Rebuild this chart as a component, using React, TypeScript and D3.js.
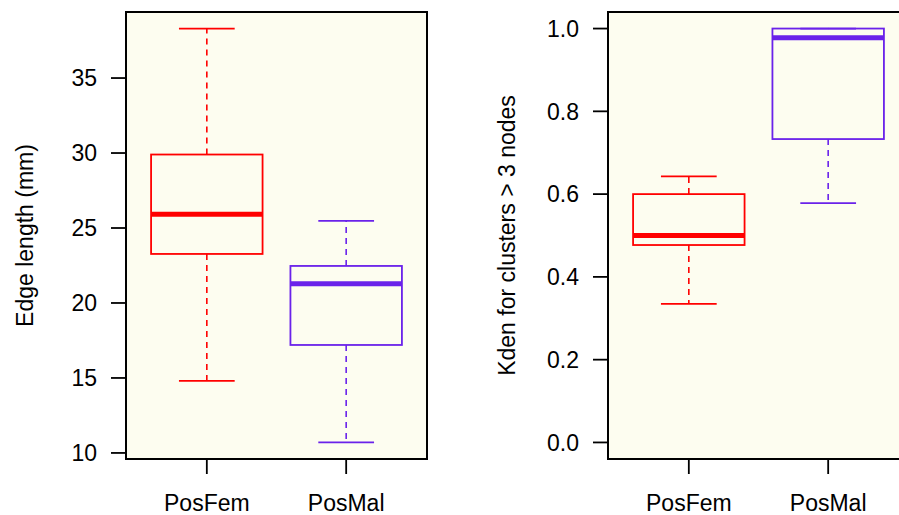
import React from "react";
import * as d3 from "d3";

const categories = ["PosFem", "PosMal"];

// Panel 1: Edge length (mm) — [lowerWhisker, Q1, median, Q3, upperWhisker]
const edgeLengthStats = [
  [14.8, 23.27, 25.91, 29.9, 38.3],
  [10.7, 17.2, 21.29, 22.47, 25.48],
];
const edgeTicks = [10, 15, 20, 25, 30, 35];

// Panel 2: Kden for clusters > 3 nodes
const kdenStats = [
  [0.335, 0.477, 0.5, 0.6, 0.643],
  [0.578, 0.733, 0.978, 1.0, 1.0],
];
const kdenTicks = [0.0, 0.2, 0.4, 0.6, 0.8, 1.0];

const colors = ["#FF0000", "#6A22EA"];

const W = 899;
const H = 515;
const FONT = "'Liberation Sans', Arial, Helvetica, sans-serif";
const FS = 23;

type PanelProps = {
  left: number;
  right: number;
  top: number;
  bottom: number;
  stats: number[][];
  ylim: [number, number];
  ticks: number[];
  tickFmt: (v: number) => string;
  ylabel: string;
  ylabelX: number;
};

function Panel(p: PanelProps) {
  const x = d3.scaleLinear().domain([0.42, 2.58]).range([p.left, p.right]);
  const y = d3.scaleLinear().domain(p.ylim).range([p.bottom, p.top]);
  const unit = x(1) - x(0);
  const boxHalf = 0.4 * unit;
  const capHalf = 0.2 * unit;
  const midY = (p.top + p.bottom) / 2;
  return (
    <g>
      <rect x={p.left} y={p.top} width={p.right - p.left} height={p.bottom - p.top} fill="#FDFDF0" />
      {p.stats.map((s, i) => {
        const cx = x(i + 1);
        const c = colors[i];
        const [lo, q1, med, q3, hi] = s;
        return (
          <g key={i}>
            <line x1={cx} x2={cx} y1={y(q3)} y2={y(hi)} stroke={c} strokeWidth={1.6} strokeDasharray="6,5" />
            <line x1={cx} x2={cx} y1={y(q1)} y2={y(lo)} stroke={c} strokeWidth={1.6} strokeDasharray="6,5" />
            <line x1={cx - capHalf} x2={cx + capHalf} y1={y(hi)} y2={y(hi)} stroke={c} strokeWidth={1.8} />
            <line x1={cx - capHalf} x2={cx + capHalf} y1={y(lo)} y2={y(lo)} stroke={c} strokeWidth={1.8} />
            <rect x={cx - boxHalf} y={y(q3)} width={2 * boxHalf} height={y(q1) - y(q3)} fill="none" stroke={c} strokeWidth={1.8} />
            <line x1={cx - boxHalf} x2={cx + boxHalf} y1={y(med)} y2={y(med)} stroke={c} strokeWidth={5} />
          </g>
        );
      })}
      <rect x={p.left} y={p.top} width={p.right - p.left} height={p.bottom - p.top} fill="none" stroke="#000" strokeWidth={2} />
      {p.ticks.map((t) => (
        <g key={t}>
          <line x1={p.left - 15} x2={p.left} y1={y(t)} y2={y(t)} stroke="#000" strokeWidth={1.8} />
          <text x={p.left - 29} y={y(t)} dy="0.36em" textAnchor="end" fontSize={FS} fontFamily={FONT} fill="#000">
            {p.tickFmt(t)}
          </text>
        </g>
      ))}
      {categories.map((c, i) => (
        <g key={c}>
          <line x1={x(i + 1)} x2={x(i + 1)} y1={p.bottom} y2={p.bottom + 15} stroke="#000" strokeWidth={1.8} />
          <text x={x(i + 1)} y={p.bottom + 52} textAnchor="middle" fontSize={FS} fontFamily={FONT} fill="#000">
            {c}
          </text>
        </g>
      ))}
      <text
        transform={`translate(${p.ylabelX},${midY}) rotate(-90)`}
        textAnchor="middle"
        dy="0.36em"
        fontSize={FS}
        fontFamily={FONT}
        fill="#000"
      >
        {p.ylabel}
      </text>
    </g>
  );
}

function padded(stats: number[][]): [number, number] {
  const all = stats.flat();
  const lo = d3.min(all)!;
  const hi = d3.max(all)!;
  const r = hi - lo;
  return [lo - 0.04 * r, hi + 0.04 * r];
}

export default function App() {
  return (
    <svg
      width={W}
      height={H}
      style={{ position: "fixed", left: 0, top: 0, background: "#fff" }}
    >
      <rect x={0} y={0} width={W} height={H} fill="#fff" />
      <Panel
        left={126}
        right={427}
        top={12}
        bottom={459}
        stats={edgeLengthStats}
        ylim={padded(edgeLengthStats)}
        ticks={edgeTicks}
        tickFmt={(v) => d3.format("d")(v)}
        ylabel="Edge length (mm)"
        ylabelX={25}
      />
      <Panel
        left={608}
        right={909}
        top={12}
        bottom={459}
        stats={kdenStats}
        ylim={[-0.04, 1.04]}
        ticks={kdenTicks}
        tickFmt={(v) => d3.format(".1f")(v)}
        ylabel="Kden for clusters > 3 nodes"
        ylabelX={507}
      />
    </svg>
  );
}
